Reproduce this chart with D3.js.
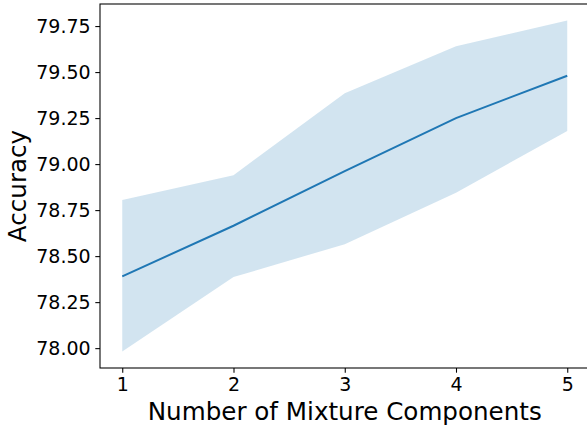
<!DOCTYPE html>
<html>
<head>
<meta charset="utf-8">
<script src="https://cdn.jsdelivr.net/npm/d3@7"></script>
<style>
  body { margin: 0; background: #fff; }
  svg { display: block; overflow: hidden; }
  text { font-family: "DejaVu Sans", sans-serif; fill: #000; }
</style>
</head>
<body>
<div id="chart"></div>
<script>
// data
var components = [1, 2, 3, 4, 5];
var meanAcc = [78.39, 78.665, 78.962, 79.25, 79.48];
var lowerAcc = [77.982, 78.386, 78.565, 78.845, 79.18];
var upperAcc = [78.805, 78.94, 79.385, 79.64, 79.78];
var yTicks = [78.00, 78.25, 78.50, 78.75, 79.00, 79.25, 79.50, 79.75];

var svgWidth = 587;
var svgHeight = 426;

// the right spine falls just outside the picture
var margin = { top: 4, right: -2.5, bottom: 58, left: 100 };
var width = svgWidth - margin.left - margin.right;
var height = svgHeight - margin.top - margin.bottom;

var svg = d3.select("#chart")
  .append("svg")
  .attr("width", svgWidth)
  .attr("height", svgHeight);

var chartGroup = svg.append("g")
  .attr("transform", `translate(${margin.left}, ${margin.top})`);

var data = components.map(function(c, i) {
  return { x: c, mean: meanAcc[i], lo: lowerAcc[i], hi: upperAcc[i] };
});

// matplotlib style 5% padding
var xPad = (d3.max(components) - d3.min(components)) * 0.05;
var yMin = d3.min(lowerAcc), yMax = d3.max(upperAcc);
var yPad = (yMax - yMin) * 0.05;

var xScale = d3.scaleLinear()
  .domain([d3.min(components) - xPad, d3.max(components) + xPad])
  .range([0, width]);

var yScale = d3.scaleLinear()
  .domain([yMin - yPad, yMax + yPad])
  .range([height, 0]);

// band
var area = d3.area()
  .x(d => xScale(d.x))
  .y0(d => yScale(d.lo))
  .y1(d => yScale(d.hi));

chartGroup.append("path")
  .datum(data)
  .attr("d", area)
  .attr("fill", "#1f77b4")
  .attr("fill-opacity", 0.2);

// mean line
var line = d3.line()
  .x(d => xScale(d.x))
  .y(d => yScale(d.mean));

chartGroup.append("path")
  .datum(data)
  .attr("d", line)
  .attr("fill", "none")
  .attr("stroke", "#1f77b4")
  .attr("stroke-width", 2);

// axes
var bottomAxis = d3.axisBottom(xScale)
  .tickValues(components)
  .tickFormat(d3.format("d"))
  .tickSize(4.7)
  .tickPadding(4.7)
  .tickSizeOuter(0);

var leftAxis = d3.axisLeft(yScale)
  .tickValues(yTicks)
  .tickFormat(d3.format(".2f"))
  .tickSize(4.7)
  .tickPadding(4.7)
  .tickSizeOuter(0);

var xAxisG = chartGroup.append("g")
  .attr("transform", `translate(0, ${height})`)
  .call(bottomAxis);

var yAxisG = chartGroup.append("g")
  .call(leftAxis);

[xAxisG, yAxisG].forEach(function(g) {
  g.select(".domain").remove();
  g.selectAll("line").attr("stroke", "#000").attr("stroke-width", 1.07);
  g.selectAll("text")
    .attr("font-family", "DejaVu Sans, sans-serif")
    .attr("font-size", "19px")
    .attr("fill", "#000");
});

// spines
chartGroup.append("rect")
  .attr("x", 0)
  .attr("y", 0)
  .attr("width", width)
  .attr("height", height)
  .attr("fill", "none")
  .attr("stroke", "#000")
  .attr("stroke-width", 1.07);

// axis labels
chartGroup.append("text")
  .attr("transform", "rotate(-90)")
  .attr("x", -height / 2)
  .attr("y", -74)
  .attr("text-anchor", "middle")
  .attr("font-size", "24.6px")
  .text("Accuracy");

svg.append("text")
  .attr("x", 100 + xScale(3))
  .attr("y", 420)
  .attr("text-anchor", "middle")
  .attr("font-size", "24.6px")
  .text("Number of Mixture Components");
</script>
</body>
</html>
